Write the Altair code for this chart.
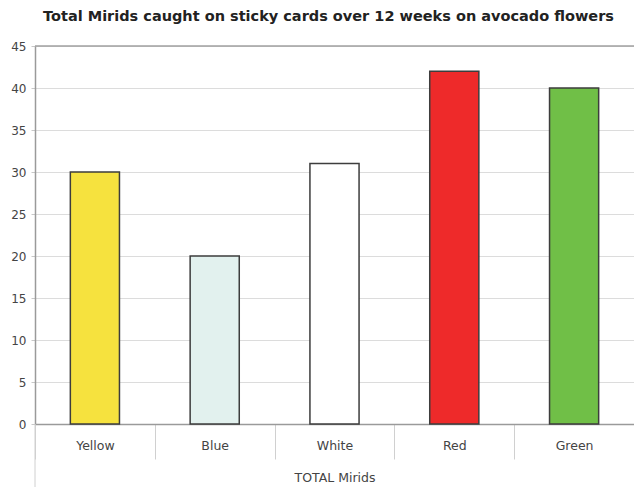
import altair as alt
import pandas as pd

categories = ["Yellow", "Blue", "White", "Red", "Green"]
values = [30, 20, 31, 42, 40]
fills = ["#F6E23E", "#E2F1EE", "#FFFFFF", "#EE2A2A", "#70BF47"]

df = pd.DataFrame({"card": categories, "mirids": values, "fill": fills})

W, H = 599, 378
FONT = "DejaVu Sans"

bars = alt.Chart(df).mark_bar(
    width=alt.RelativeBandSize(0.41), stroke="#3d3d3d", strokeWidth=1.5
).encode(
    x=alt.X("card:N", sort=categories, title="TOTAL Mirids",
            scale=alt.Scale(paddingInner=0, paddingOuter=0),
            axis=alt.Axis(labelAngle=0, tickBand="extent", tickSize=35, tickColor="#d0d0d0",
                          tickWidth=1, labelPadding=-20, labelFontSize=12.5, labelColor="#444",
                          labelFont=FONT, titleFont=FONT, titleFontSize=12.5, titleFontWeight="normal",
                          titleColor="#444", titlePadding=12, domainColor="#9a9a9a", domainWidth=1.5,
                          grid=False)),
    y=alt.Y("mirids:Q", title=None,
            scale=alt.Scale(domain=[0, 45], nice=False),
            axis=alt.Axis(values=list(range(0, 50, 5)), tickSize=4, tickColor="#c8c8c8",
                          labelPadding=5, labelFontSize=12, labelColor="#444", labelFont=FONT,
                          domainColor="#9a9a9a", domainWidth=1.5, gridColor="#dcdcdc", gridWidth=1)),
    fill=alt.Fill("fill:N", scale=None),
)

top_line = alt.Chart(pd.DataFrame({"v": [45]})).mark_rule(color="#a0a0a0", strokeWidth=1.5).encode(
    y=alt.Y("v:Q", scale=alt.Scale(domain=[0, 45], nice=False))
)

left_ext = alt.Chart(pd.DataFrame({"v": [0]})).mark_rule(color="#d0d0d0", strokeWidth=1).encode(
    x=alt.value(0), y=alt.value(H), y2=alt.value(H + 63)
)

chart = alt.layer(bars, top_line, left_ext).properties(
    width=W, height=H,
    autosize=alt.AutoSizeParams(type="none"),
    padding={"left": 35, "top": 46, "right": 0, "bottom": 63},
    title=alt.TitleParams("Total Mirids caught on sticky cards over 12 weeks on avocado flowers",
                          font=FONT, fontSize=14.5, fontWeight="bold", color="#222", offset=16, dx=-6),
).configure_view(stroke=None).configure(background="white")

chart.save("out.html", embed_options={"renderer": "svg", "actions": False})
